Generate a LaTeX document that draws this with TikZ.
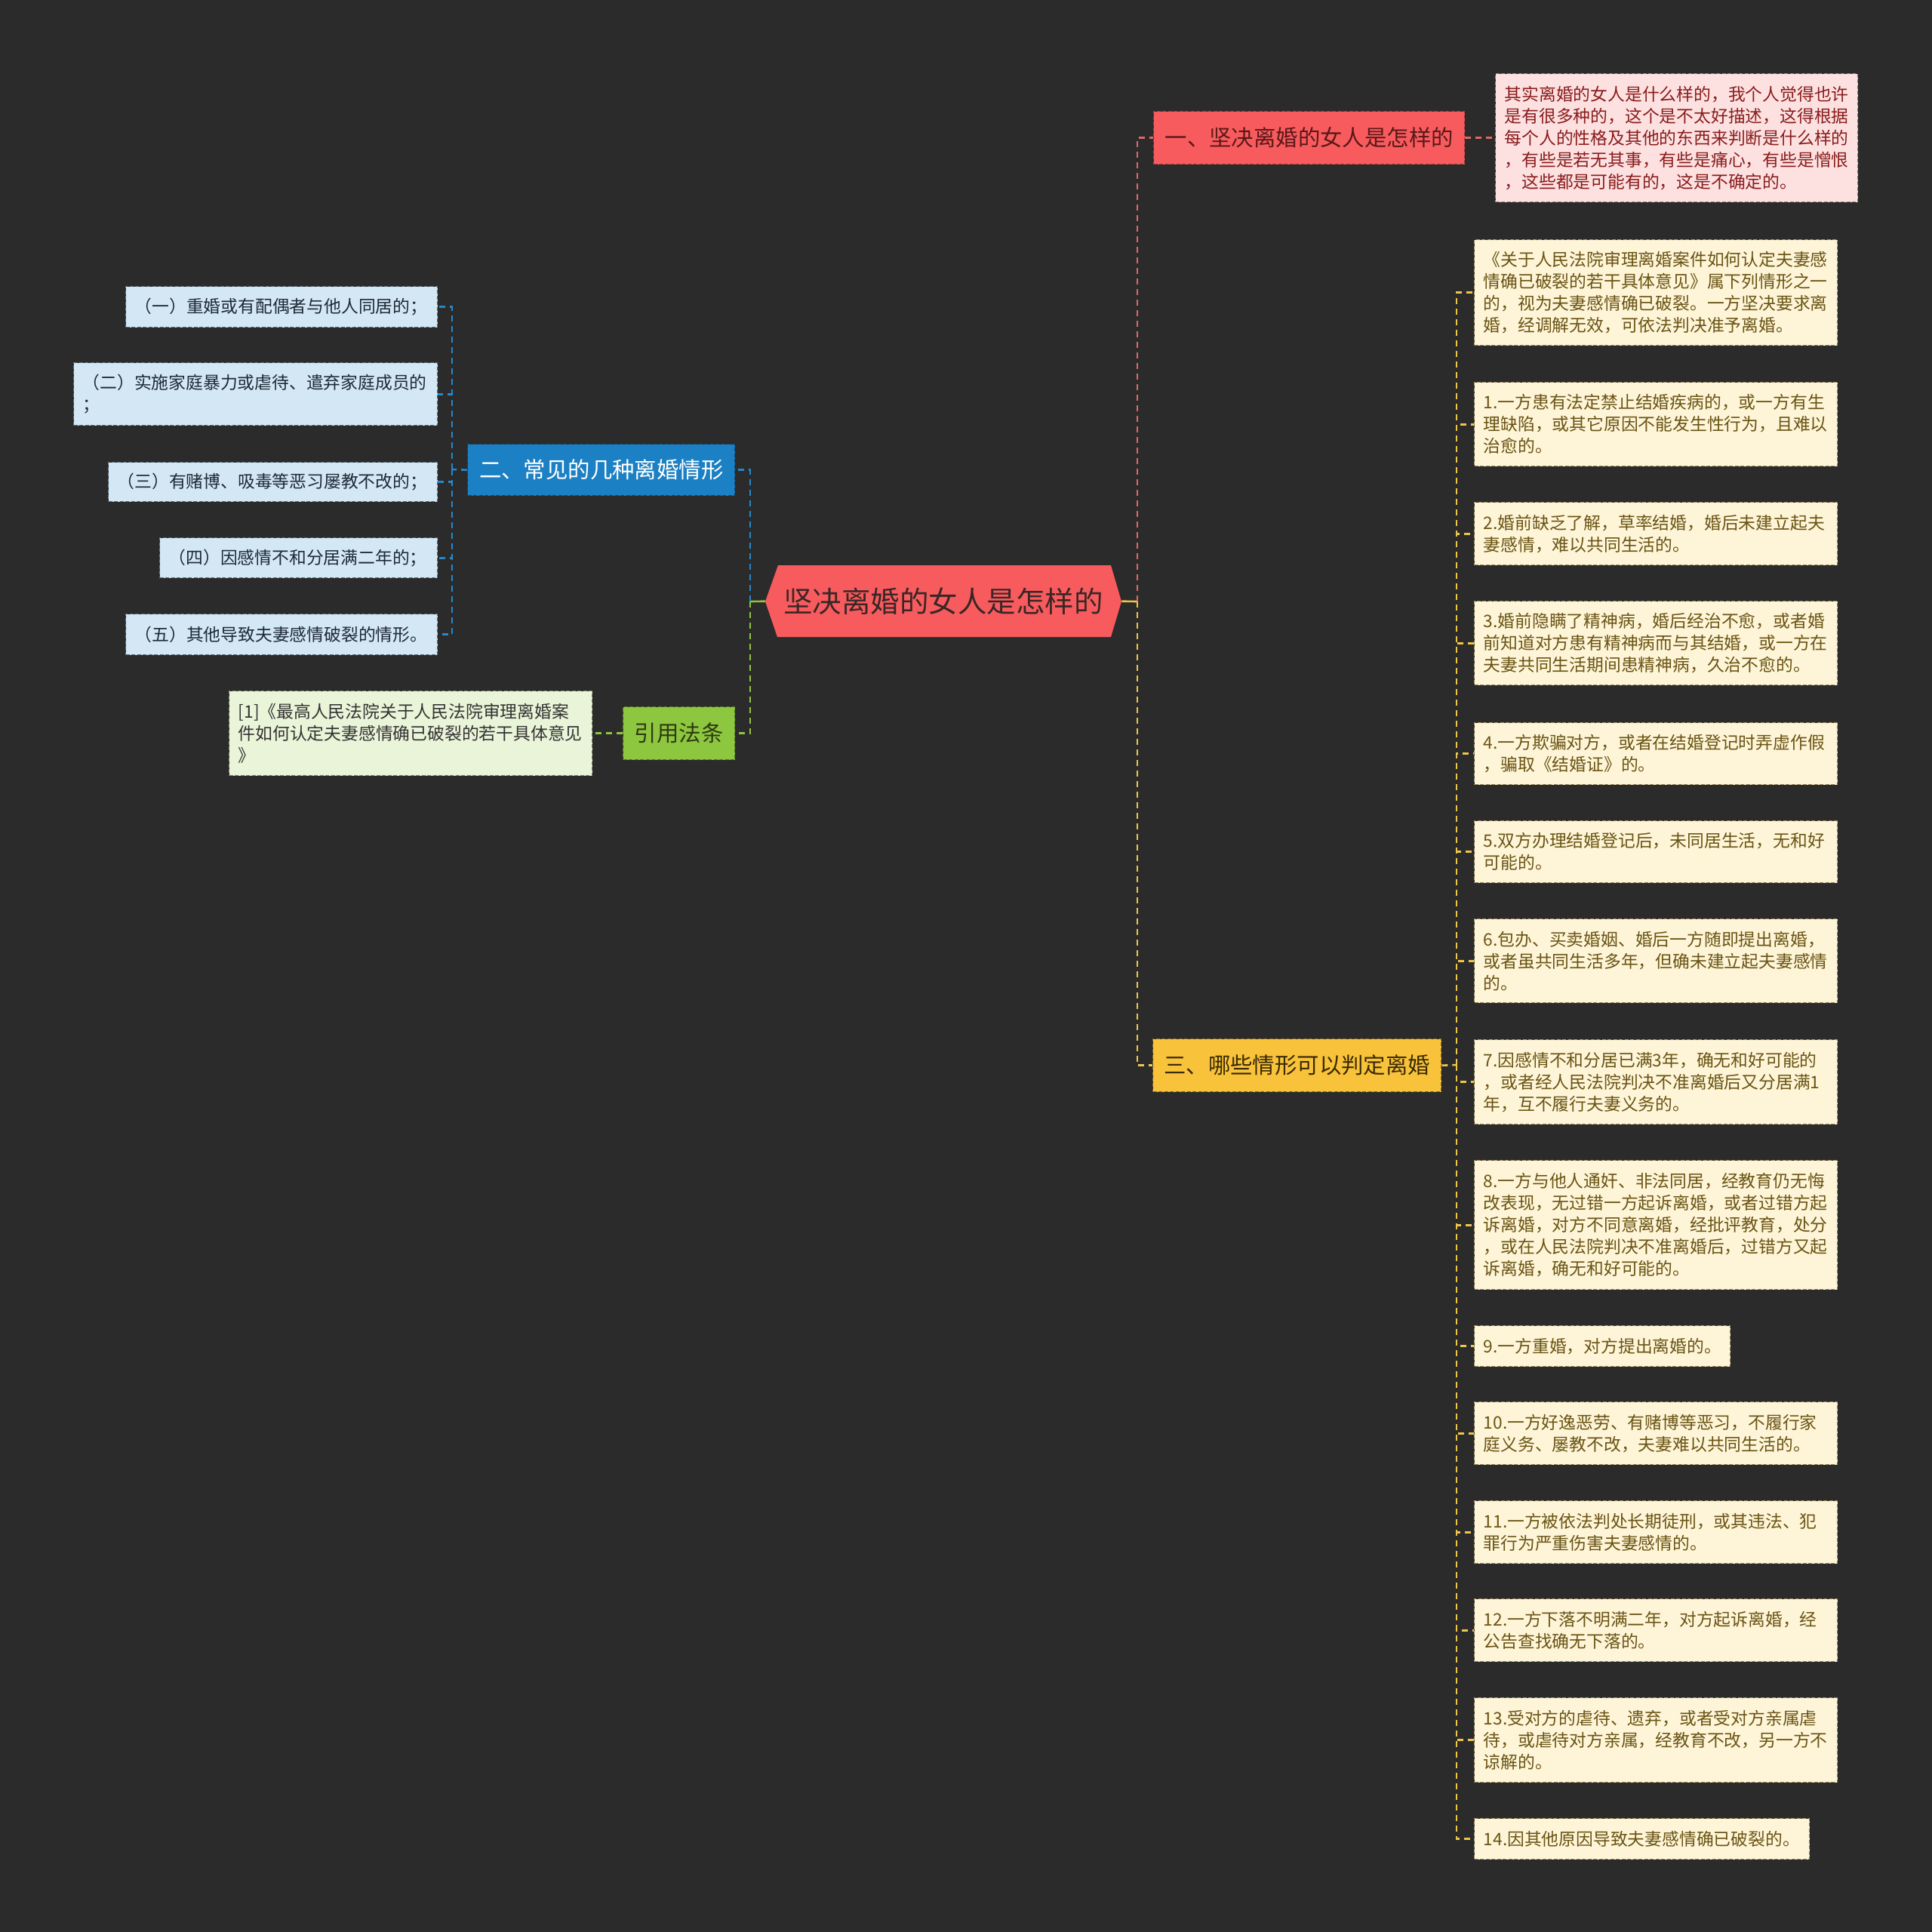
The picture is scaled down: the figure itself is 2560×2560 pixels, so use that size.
\documentclass[tikz,border=0pt]{standalone}
\usepackage{fontspec}
\setmainfont{Noto Sans CJK SC}
\newcommand\detfont{\fontsize{22.8}{29}\selectfont}
\newcommand\lvlfont{\fontsize{29.4}{35}\selectfont}
\newcommand\rootfont{\fontsize{38.5}{45}\selectfont}
\definecolor{bgc}{HTML}{2B2B2B}
\definecolor{cfill}{HTML}{F75B5E}
\definecolor{ctext}{HTML}{3A2626}
\definecolor{rfill}{HTML}{F75B5E}
\definecolor{rborder}{HTML}{9E3C3C}
\definecolor{rtext}{HTML}{5A1818}
\definecolor{rdfill}{HTML}{FDE1E1}
\definecolor{rdborder}{HTML}{9A7C7C}
\definecolor{rdtext}{HTML}{8A1C1C}
\definecolor{rline}{HTML}{E0676A}
\definecolor{yfill}{HTML}{F8C33A}
\definecolor{yborder}{HTML}{8C6C1E}
\definecolor{ytext}{HTML}{3A2A05}
\definecolor{ydfill}{HTML}{FEF5D8}
\definecolor{ydborder}{HTML}{9A8A5E}
\definecolor{ydtext}{HTML}{6A5414}
\definecolor{yline}{HTML}{EEC648}
\definecolor{bfill}{HTML}{1C80C4}
\definecolor{bborder}{HTML}{0F4A78}
\definecolor{bdfill}{HTML}{D3E7F4}
\definecolor{bdborder}{HTML}{5C6E7E}
\definecolor{bdtext}{HTML}{1E2A36}
\definecolor{bline}{HTML}{2488CC}
\definecolor{gfill}{HTML}{8DC63F}
\definecolor{gborder}{HTML}{5A7C22}
\definecolor{gtext}{HTML}{2E3A12}
\definecolor{gdfill}{HTML}{EAF4D8}
\definecolor{gdborder}{HTML}{7C8A6A}
\definecolor{gdtext}{HTML}{333333}
\definecolor{gline}{HTML}{8DC63F}
\begin{document}
\begin{tikzpicture}[x=1pt,y=-1pt,
  boxbase/.style={draw, dash pattern=on 5pt off 2.5pt, line width=1.4pt, anchor=north west, inner ysep=0pt},
  detbox/.style={boxbase, inner xsep=12pt, align=left, font=\detfont},
  ydet/.style={detbox, fill=ydfill, draw=ydborder, text=ydtext},
  rdet/.style={detbox, fill=rdfill, draw=rdborder, text=rdtext},
  bdet/.style={detbox, fill=bdfill, draw=bdborder, text=bdtext},
  gdet/.style={detbox, fill=gdfill, draw=gdborder, text=gdtext},
  lvl/.style={boxbase, inner xsep=0pt, align=center, font=\lvlfont, minimum height=70pt},
  conn/.style={line width=2.6pt, dash pattern=on 8pt off 6pt},
  stub/.style={line width=2.6pt}
]
\useasboundingbox (0,0) rectangle (2560,2560);
\fill[bgc] (0,0) rectangle (2560,2560);

% central topic
\fill[cfill] (1014,797) -- (1031,749) -- (1472,749) -- (1486,797) -- (1472,844) -- (1030,844) -- cycle;
\node[anchor=north west, minimum width=472pt, minimum height=95pt, inner sep=0pt, font=\rootfont, text=ctext] (root) at (1014,749) {坚决离婚的女人是怎样的};

% level 1
\node[lvl, fill=rfill, draw=rborder, text=rtext, minimum width=412pt] (n1) at (1528,147) {一、坚决离婚的女人是怎样的};
\node[lvl, fill=yfill, draw=yborder, text=ytext, minimum width=382pt] (n3) at (1527,1376) {三、哪些情形可以判定离婚};
\node[lvl, fill=bfill, draw=bborder, text=white, minimum width=354pt, minimum height=68pt] (n2) at (619,588) {二、常见的几种离婚情形};
\node[lvl, fill=gfill, draw=gborder, text=gtext, minimum width=148pt] (n4) at (825,936) {引用法条};

% red detail
\node[rdet, text width=456pt, minimum height=170pt] (r1) at (1981,97) {其实离婚的女人是什么样的，我个人觉得也许\\是有很多种的，这个是不太好描述，这得根据\\每个人的性格及其他的东西来判断是什么样的\\，有些是若无其事，有些是痛心，有些是憎恨\\，这些都是可能有的，这是不确定的。};

% yellow details
\node[ydet, text width=457pt, minimum height=140pt] (y0) at (1953,317) {《关于人民法院审理离婚案件如何认定夫妻感\\情确已破裂的若干具体意见》属下列情形之一\\的，视为夫妻感情确已破裂。一方坚决要求离\\婚，经调解无效，可依法判决准予离婚。};
\node[ydet, text width=457pt, minimum height=111pt] (y1) at (1953,506) {1.一方患有法定禁止结婚疾病的，或一方有生\\理缺陷，或其它原因不能发生性行为，且难以\\治愈的。};
\node[ydet, text width=457pt, minimum height=83pt] (y2) at (1953,665) {2.婚前缺乏了解，草率结婚，婚后未建立起夫\\妻感情，难以共同生活的。};
\node[ydet, text width=457pt, minimum height=111pt] (y3) at (1953,796) {3.婚前隐瞒了精神病，婚后经治不愈，或者婚\\前知道对方患有精神病而与其结婚，或一方在\\夫妻共同生活期间患精神病，久治不愈的。};
\node[ydet, text width=457pt, minimum height=82pt] (y4) at (1953,957) {4.一方欺骗对方，或者在结婚登记时弄虚作假\\，骗取《结婚证》的。};
\node[ydet, text width=457pt, minimum height=82pt] (y5) at (1953,1087) {5.双方办理结婚登记后，未同居生活，无和好\\可能的。};
\node[ydet, text width=457pt, minimum height=111pt] (y6) at (1953,1217) {6.包办、买卖婚姻、婚后一方随即提出离婚，\\或者虽共同生活多年，但确未建立起夫妻感情\\的。};
\node[ydet, text width=457pt, minimum height=112pt] (y7) at (1953,1377) {7.因感情不和分居已满3年，确无和好可能的\\，或者经人民法院判决不准离婚后又分居满1\\年，互不履行夫妻义务的。};
\node[ydet, text width=457pt, minimum height=171pt] (y8) at (1953,1537) {8.一方与他人通奸、非法同居，经教育仍无悔\\改表现，无过错一方起诉离婚，或者过错方起\\诉离婚，对方不同意离婚，经批评教育，处分\\，或在人民法院判决不准离婚后，过错方又起\\诉离婚，确无和好可能的。};
\node[ydet, text width=315pt, minimum height=54pt] (y9) at (1953,1756) {9.一方重婚，对方提出离婚的。};
\node[ydet, text width=457pt, minimum height=83pt] (y10) at (1953,1857) {10.一方好逸恶劳、有赌博等恶习，不履行家\\庭义务、屡教不改，夫妻难以共同生活的。};
\node[ydet, text width=457pt, minimum height=83pt] (y11) at (1953,1988) {11.一方被依法判处长期徒刑，或其违法、犯\\罪行为严重伤害夫妻感情的。};
\node[ydet, text width=457pt, minimum height=83pt] (y12) at (1953,2118) {12.一方下落不明满二年，对方起诉离婚，经\\公告查找确无下落的。};
\node[ydet, text width=457pt, minimum height=112pt] (y13) at (1953,2249) {13.受对方的虐待、遗弃，或者受对方亲属虐\\待，或虐待对方亲属，经教育不改，另一方不\\谅解的。};
\node[ydet, text width=420pt, minimum height=54pt] (y14) at (1953,2409) {14.因其他原因导致夫妻感情确已破裂的。};

% blue details
\node[bdet, text width=389pt, minimum height=54pt] (b1) at (166,379) {（一）重婚或有配偶者与他人同居的；};
\node[bdet, text width=458pt, minimum height=83pt] (b2) at (97,480) {（二）实施家庭暴力或虐待、遣弃家庭成员的\\；};
\node[bdet, text width=412pt, minimum height=52pt] (b3) at (143,612) {（三）有赌博、吸毒等恶习屡教不改的；};
\node[bdet, text width=344pt, minimum height=53pt] (b4) at (211,712) {（四）因感情不和分居满二年的；};
\node[bdet, text width=389pt, minimum height=54pt] (b5) at (166,813) {（五）其他导致夫妻感情破裂的情形。};

% green detail
\node[gdet, text width=457pt, minimum height=112pt] (g1) at (303,915) {[1]《最高人民法院关于人民法院审理离婚案\\件如何认定夫妻感情确已破裂的若干具体意见\\》};

% junctions
\coordinate (jr) at (1507,797);
\coordinate (jy) at (1930,1411);
\coordinate (jl) at (994,797);
\coordinate (jb) at (599,622);

% right connectors
\draw[stub, yline] (root.east) -- (jr);
\draw[conn, rline] (jr) |- (n1.west);
\draw[conn, yline] (jr) |- (n3.west);
\draw[conn, rline] (n1.east) -- (r1.west);
\draw[conn, yline] (n3.east) -- (jy);
\foreach \k in {y0,y1,y2,y3,y4,y5,y6,y7,y8,y9,y10,y11,y12,y13,y14}
  \draw[conn, yline] (jy) |- (\k.west);

% left connectors
\draw[stub, gline] (root.west) -- (jl);
\draw[conn, bline] (jl) |- (n2.east);
\draw[conn, gline] (jl) |- (n4.east);
\draw[conn, gline] (n4.west) -- (g1.east);
\draw[conn, bline] (n2.west) -- (jb);
\foreach \k in {b1,b2,b3,b4,b5}
  \draw[conn, bline] (jb) |- (\k.east);
\end{tikzpicture}
\end{document}
